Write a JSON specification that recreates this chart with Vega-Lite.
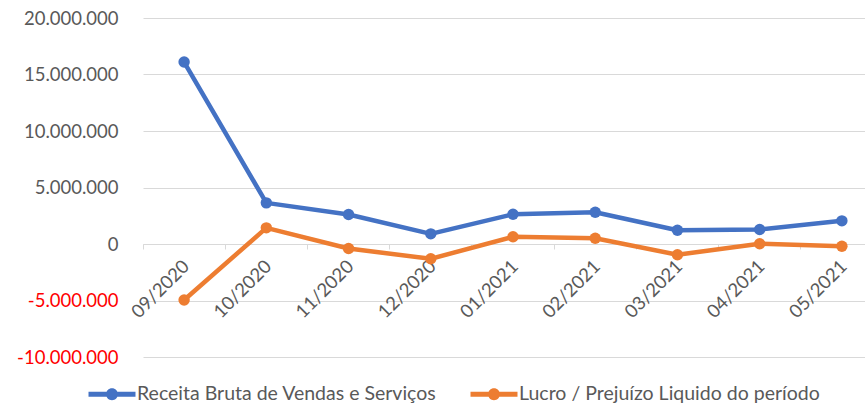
{
  "$schema": "https://vega.github.io/schema/vega-lite/v6.json",
  "width": 722,
  "height": 339,
  "autosize": {"type": "none"},
  "padding": {"left": 143, "top": 18, "right": 0, "bottom": 56},
  "config": {
    "view": {"stroke": null},
    "font": "Lato",
    "locale": {"number": {"decimal": ",", "thousands": ".", "grouping": [3], "currency": ["R$", ""], "minus": "-"}}
  },
  "data": {
    "values": [
      {"mes": "09/2020", "serie": "Receita Bruta de Vendas e Serviços", "valor": 16100000},
      {"mes": "10/2020", "serie": "Receita Bruta de Vendas e Serviços", "valor": 3640000},
      {"mes": "11/2020", "serie": "Receita Bruta de Vendas e Serviços", "valor": 2610000},
      {"mes": "12/2020", "serie": "Receita Bruta de Vendas e Serviços", "valor": 900000},
      {"mes": "01/2021", "serie": "Receita Bruta de Vendas e Serviços", "valor": 2630000},
      {"mes": "02/2021", "serie": "Receita Bruta de Vendas e Serviços", "valor": 2810000},
      {"mes": "03/2021", "serie": "Receita Bruta de Vendas e Serviços", "valor": 1220000},
      {"mes": "04/2021", "serie": "Receita Bruta de Vendas e Serviços", "valor": 1280000},
      {"mes": "05/2021", "serie": "Receita Bruta de Vendas e Serviços", "valor": 2050000},
      {"mes": "09/2020", "serie": "Lucro / Prejuízo Liquido do período", "valor": -4960000},
      {"mes": "10/2020", "serie": "Lucro / Prejuízo Liquido do período", "valor": 1430000},
      {"mes": "11/2020", "serie": "Lucro / Prejuízo Liquido do período", "valor": -400000},
      {"mes": "12/2020", "serie": "Lucro / Prejuízo Liquido do período", "valor": -1310000},
      {"mes": "01/2021", "serie": "Lucro / Prejuízo Liquido do período", "valor": 640000},
      {"mes": "02/2021", "serie": "Lucro / Prejuízo Liquido do período", "valor": 510000},
      {"mes": "03/2021", "serie": "Lucro / Prejuízo Liquido do período", "valor": -950000},
      {"mes": "04/2021", "serie": "Lucro / Prejuízo Liquido do período", "valor": 20000},
      {"mes": "05/2021", "serie": "Lucro / Prejuízo Liquido do período", "valor": -200000}
    ]
  },
  "mark": {"type": "line", "strokeWidth": 4.5, "strokeJoin": "round", "strokeCap": "round", "point": {"filled": true, "size": 130, "opacity": 1}},
  "encoding": {
    "x": {
      "field": "mes",
      "type": "ordinal",
      "sort": null,
      "scale": {"type": "band", "range": [0, 740], "paddingInner": 0, "paddingOuter": 0},
      "axis": {
        "title": null,
        "orient": "bottom",
        "offset": -113,
        "bandPosition": 0,
        "domainColor": "#d9d9d9",
        "domainWidth": 1,
        "tickColor": "#d9d9d9",
        "tickSize": 5,
        "grid": false,
        "labelAngle": -45,
        "labelAlign": "right",
        "labelBaseline": "middle",
        "labelOffset": 2,
        "labelPadding": 14,
        "labelFontSize": 18.5,
        "labelColor": "#595959"
      }
    },
    "y": {
      "field": "valor",
      "type": "quantitative",
      "scale": {"domain": [-10000000, 20000000], "nice": false, "zero": false},
      "axis": {
        "title": null,
        "values": [-10000000, -5000000, 0, 5000000, 10000000, 15000000, 20000000],
        "format": ",d",
        "domain": false,
        "ticks": false,
        "labelFontSize": 18.5,
        "labelPadding": 25,
        "labelColor": {"expr": "datum.value < 0 ? '#ff0000' : '#595959'"},
        "gridColor": "#d9d9d9",
        "gridWidth": 1
      }
    },
    "color": {
      "field": "serie",
      "type": "nominal",
      "sort": ["Receita Bruta de Vendas e Serviços", "Lucro / Prejuízo Liquido do período"],
      "scale": {"domain": ["Receita Bruta de Vendas e Serviços", "Lucro / Prejuízo Liquido do período"], "range": ["#4472c4", "#ed7d31"]},
      "legend": {
        "title": null,
        "orient": "none",
        "legendX": -43,
        "legendY": 364,
        "direction": "horizontal",
        "columns": 2,
        "padding": 0,
        "columnPadding": 33,
        "labelFontSize": 19.5,
        "labelColor": "#595959",
        "labelOffset": 13,
        "labelLimit": 400,
        "symbolType": "M-2,-0.21L2,-0.21L2,0.21L-2,0.21Z M0.51,0 A0.51,0.51 0 1,1 -0.51,0 A0.51,0.51 0 1,1 0.51,0Z",
        "symbolSize": 552,
        "symbolStrokeWidth": 0,
        "encode": {"symbols": {"update": {"fill": {"scale": "color", "field": "value"}, "opacity": {"value": 1}, "fillOpacity": {"value": 1}}}}
      }
    }
  }
}
